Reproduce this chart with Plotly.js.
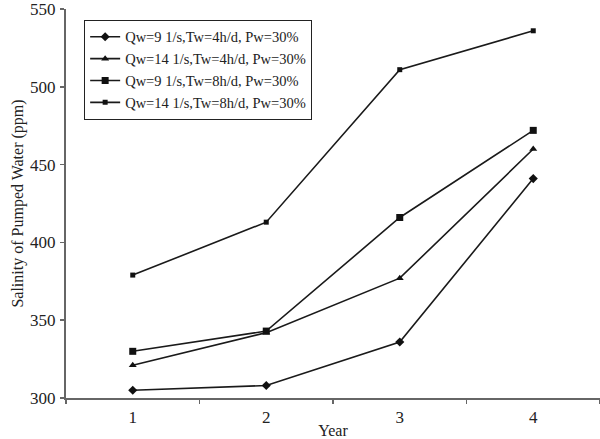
<!DOCTYPE html>
<html>
<head>
<meta charset="utf-8">
<script src="https://cdn.plot.ly/plotly-3.0.1.min.js"></script>
<style>html,body{margin:0;padding:0;background:#fff;}#chart{width:600px;height:439px;}</style>
</head>
<body>
<div id="chart"></div>
<script>
const years = ["1", "2", "3", "4"];
const seriesNames = [
  "Qw=9 1/s,Tw=4h/d, Pw=30%",
  "Qw=14 1/s,Tw=4h/d, Pw=30%",
  "Qw=9 1/s,Tw=8h/d, Pw=30%",
  "Qw=14 1/s,Tw=8h/d, Pw=30%"
];
const qw9tw4 = [305, 308, 336, 441];
const qw14tw4 = [321, 342, 377, 460];
const qw9tw8 = [330, 343, 416, 472];
const qw14tw8 = [379, 413, 511, 536];
const yTicks = [300, 350, 400, 450, 500, 550];

const values = [qw9tw4, qw14tw4, qw9tw8, qw14tw8];
const symbols = ["diamond", "triangle-up", "square", "square"];
const sizes = [7, 7, 7, 5];

const traces = values.map((v, i) => ({
  x: years,
  y: v,
  name: seriesNames[i],
  type: "scatter",
  mode: "lines+markers",
  line: {color: "#1a1a1a", width: 1.6},
  marker: {symbol: symbols[i], size: sizes[i], color: "#111"}
}));

const fam = "Liberation Serif, Times New Roman, serif";
const tickFont = {family: fam, size: 17, color: "#222"};
const titleFont = {family: fam, size: 16, color: "#222"};

const layout = {
  width: 600, height: 439,
  margin: {l: 66, r: 0, t: 9, b: 41},
  paper_bgcolor: "#fff", plot_bgcolor: "#fff",
  font: tickFont,
  showlegend: true,
  legend: {
    x: 0.034, y: 0.972, xanchor: "left", yanchor: "top",
    bordercolor: "#222", borderwidth: 1,
    font: {family: fam, size: 14.5, color: "#222"},
    bgcolor: "#fff"
  },
  xaxis: {
    type: "category",
    range: [-0.5, 3.5],
    tickson: "boundaries",
    ticks: "outside", ticklen: 4, tickcolor: "#666", tickwidth: 1.5,
    showline: true, linecolor: "#666", linewidth: 2,
    showgrid: false, zeroline: false,
    tickfont: tickFont,
    ticklabelstandoff: 3,
    ticklabeloverflow: "allow",
    title: {text: "Year", font: titleFont, standoff: 0},
    automargin: false
  },
  yaxis: {
    range: [300, 550],
    tickvals: yTicks,
    ticks: "outside", ticklen: 4, tickcolor: "#666", tickwidth: 1.5,
    showline: true, linecolor: "#666", linewidth: 2,
    showgrid: false, zeroline: false,
    tickfont: tickFont,
    ticklabelstandoff: 1,
    ticklabeloverflow: "allow",
    title: {text: "Salinity of Pumped Water (ppm)", font: titleFont, standoff: 2},
    automargin: false
  }
};

Plotly.newPlot("chart", traces, layout, {displayModeBar: false, staticPlot: true});
</script>
</body>
</html>
